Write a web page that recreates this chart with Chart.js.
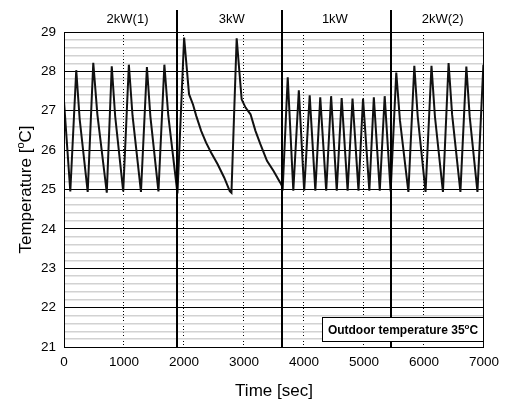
<!DOCTYPE html>
<html>
<head>
<meta charset="utf-8">
<script src="https://cdn.jsdelivr.net/npm/chart.js@4.4.1/dist/chart.umd.min.js"></script>
<style>
  html, body { margin: 0; padding: 0; background: #fff; }
  #wrap { width: 506px; height: 401px; }
</style>
</head>
<body>
<div id="wrap"><canvas id="chart" width="506" height="401"></canvas></div>
<script>
// room temperature readings
const timeSec = [
  0, 105, 204, 261, 395, 488, 556, 713, 796, 853, 987, 1081, 1142, 1283, 1382, 1440, 1574, 1673, 1738, 1891,
  2002, 2084, 2150, 2204, 2286, 2368, 2451, 2561, 2671, 2763, 2791, 2878, 2961, 3026, 3109, 3191, 3273, 3383, 3493, 3602, 3646,
  3729, 3822, 3914, 4003, 4095, 4189, 4271, 4370, 4452, 4546, 4628, 4727, 4809, 4908, 4984, 5089, 5164, 5263, 5345, 5444,
  5538, 5599, 5740, 5839, 5895, 6026, 6125, 6182, 6316, 6410, 6469, 6607, 6706, 6762, 6891, 6990, 7000
];
const tempC = [
  27.24, 24.95, 28.03, 26.79, 24.94, 28.22, 26.91, 24.92, 28.13, 26.86, 24.95, 28.17, 26.88, 24.94, 28.11, 26.85, 24.95, 28.17, 26.88, 24.90,
  28.86, 27.42, 27.16, 26.87, 26.49, 26.19, 25.94, 25.64, 25.30, 24.96, 24.92, 28.84, 27.29, 27.08, 26.91, 26.49, 26.15, 25.73, 25.47, 25.18, 25.05,
  27.85, 24.97, 27.52, 24.97, 27.39, 24.97, 27.34, 24.97, 27.37, 24.97, 27.32, 24.97, 27.31, 24.97, 27.31, 24.97, 27.34, 24.97, 27.37, 24.95,
  27.97, 26.76, 24.94, 28.14, 26.86, 24.94, 28.14, 26.86, 24.94, 28.21, 26.90, 24.94, 28.12, 26.85, 24.94, 28.17, 28.05
];

const timeTicks = [0, 1000, 2000, 3000, 4000, 5000, 6000, 7000];
const tempTicks = [21, 22, 23, 24, 25, 26, 27, 28, 29];

// heater power phases
const sectionEdges = [1891, 3641, 5444];
const sectionNames = ["2kW(1)", "3kW", "1kW", "2kW(2)"];
const sectionLabelAt = [1059, 2796, 4515, 6311];

const FONT = "'Liberation Sans', Arial, Helvetica, sans-serif";
Chart.defaults.font.family = FONT;
Chart.defaults.color = "#000";

const isMajor = (v) => tempTicks.some((t) => Math.abs(t - v) < 1e-6);

// draws a run of text pieces (used for the superscript "o")
function drawParts(ctx, parts, x, y, align) {
  let width = 0;
  parts.forEach((p) => {
    ctx.font = p.font;
    p.w = ctx.measureText(p.text).width;
    width += p.w;
  });
  let cx = align === "center" ? x - width / 2 : x;
  ctx.textAlign = "left";
  ctx.textBaseline = "alphabetic";
  parts.forEach((p) => {
    ctx.font = p.font;
    ctx.fillText(p.text, cx, y - (p.dy || 0));
    cx += p.w;
  });
}

const extras = {
  id: "extras",
  afterDatasetsDraw(chart) {
    const { ctx, chartArea: a, scales } = chart;
    ctx.save();
    ctx.strokeStyle = "#000";
    ctx.lineWidth = 1;
    ctx.strokeRect(a.left + 0.5, a.top + 0.5, a.right - a.left - 1, a.bottom - a.top);

    ctx.lineWidth = 2;
    sectionEdges.forEach((t) => {
      const x = Math.round(scales.x.getPixelForValue(t));
      ctx.beginPath();
      ctx.moveTo(x, 10);
      ctx.lineTo(x, a.bottom);
      ctx.stroke();
    });
    ctx.restore();
  },
  afterDraw(chart) {
    const { ctx, chartArea: a, scales } = chart;
    ctx.save();
    ctx.fillStyle = "#000";

    ctx.font = "13px " + FONT;
    ctx.textAlign = "center";
    ctx.textBaseline = "alphabetic";
    sectionNames.forEach((name, i) => {
      ctx.fillText(name, scales.x.getPixelForValue(sectionLabelAt[i]), 23);
    });

    // axis titles
    ctx.font = "17px " + FONT;
    ctx.textAlign = "center";
    ctx.fillText("Time [sec]", (a.left + a.right) / 2, 396);

    ctx.save();
    ctx.translate(31, (a.top + a.bottom) / 2);
    ctx.rotate(-Math.PI / 2);
    drawParts(ctx, [
      { text: "Temperature [", font: "17px " + FONT },
      { text: "o", font: "11px " + FONT, dy: 7 },
      { text: "C]", font: "17px " + FONT }
    ], 0, 0, "center");
    ctx.restore();

    // note box
    const bx = 322.5, by = 317.5, bw = 161, bh = 24;
    ctx.fillStyle = "#fff";
    ctx.fillRect(bx, by, bw, bh);
    ctx.strokeStyle = "#000";
    ctx.lineWidth = 1;
    ctx.strokeRect(bx, by, bw, bh);
    ctx.fillStyle = "#000";
    drawParts(ctx, [
      { text: "Outdoor temperature 35", font: "bold 12px " + FONT },
      { text: "o", font: "bold 8px " + FONT, dy: 5 },
      { text: "C", font: "bold 12px " + FONT }
    ], bx + bw / 2, by + 16.5, "center");
    ctx.restore();
  }
};

new Chart(document.getElementById("chart"), {
  type: "line",
  data: {
    datasets: [{
      data: timeSec.map((t, i) => ({ x: t, y: tempC[i] })),
      borderColor: "#111",
      borderWidth: 2,
      pointRadius: 0,
      tension: 0,
      fill: false
    }]
  },
  options: {
    responsive: false,
    animation: false,
    devicePixelRatio: 1,
    layout: { padding: { left: 0, top: 32, right: 16, bottom: 0 } },
    plugins: { legend: { display: false }, tooltip: { enabled: false } },
    scales: {
      x: {
        type: "linear",
        min: timeTicks[0],
        max: timeTicks[timeTicks.length - 1],
        afterBuildTicks: (scale) => { scale.ticks = timeTicks.map((v) => ({ value: v })); },
        afterFit: (scale) => { scale.height = 54; },
        ticks: {
          font: { size: 13.5 },
          padding: 7,
          maxRotation: 0,
          autoSkip: false,
          callback: (v) => String(v)
        },
        grid: {
          drawTicks: false,
          color: (c) => (c.tick && (c.tick.value === 0 || c.tick.value === 7000)) ? "rgba(0,0,0,0)" : "#000",
          lineWidth: 1
        },
        border: { display: false, dash: [1, 2] }
      },
      y: {
        min: tempTicks[0],
        max: tempTicks[tempTicks.length - 1],
        afterFit: (scale) => { scale.width = 64; },
        ticks: {
          stepSize: 0.2,
          maxTicksLimit: 100,
          autoSkip: false,
          font: { size: 13.5 },
          padding: 8,
          callback: (v) => (isMajor(v) ? String(Math.round(v)) : "")
        },
        grid: {
          drawTicks: false,
          color: (c) => (c.tick && isMajor(c.tick.value)) ? "#000" : "#d2d2d2",
          lineWidth: (c) => (c.tick && isMajor(c.tick.value)) ? 1 : 1.5
        },
        border: { display: false }
      }
    }
  },
  plugins: [extras]
});
</script>
</body>
</html>
